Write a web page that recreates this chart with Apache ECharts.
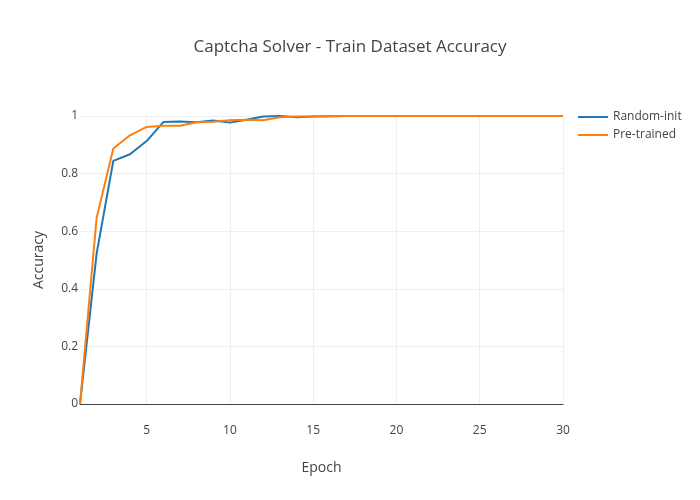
<!DOCTYPE html>
<html><head><meta charset="utf-8">
<script src="https://cdn.jsdelivr.net/npm/echarts@6/dist/echarts.min.js"></script>
<style>html,body{margin:0;padding:0;background:#fff}#c{width:700px;height:500px}</style>
</head><body><div id="c"></div>
<script>
var epochs = [];
for (var i = 1; i <= 30; i++) epochs.push(String(i));
var randomInit = [0, 0.523, 0.844, 0.867, 0.913, 0.979, 0.981, 0.978, 0.984, 0.977, 0.987, 0.998, 1.0, 0.996, 0.998, 0.999, 1, 1, 1, 1, 1, 1, 1, 1, 1, 1, 1, 1, 1, 1];
var preTrained = [0, 0.647, 0.887, 0.933, 0.962, 0.966, 0.966, 0.978, 0.980, 0.985, 0.987, 0.985, 0.996, 0.998, 0.998, 0.999, 1, 1, 1, 1, 1, 1, 1, 1, 1, 1, 1, 1, 1, 1];
var xTickLabels = ['5', '10', '15', '20', '25', '30'];

var font = '"Open Sans", sans-serif';
var chart = echarts.init(document.getElementById('c'), null, {renderer: 'canvas'});
chart.setOption({
  animation: false,
  backgroundColor: '#fff',
  title: {
    text: 'Captcha Solver - Train Dataset Accuracy',
    left: 'center', top: 34,
    textStyle: {fontFamily: font, fontSize: 17, fontWeight: 'normal', color: '#444'}
  },
  legend: {
    orient: 'vertical', left: 578, top: 111, padding: 0,
    icon: 'rect', itemWidth: 30, itemHeight: 2, itemGap: 6,
    textStyle: {fontFamily: font, fontSize: 12, color: '#444'},
    data: ['Random-init', 'Pre-trained']
  },
  grid: {left: 80, right: 137, top: 116, bottom: 96},
  xAxis: {
    type: 'category', data: epochs, boundaryGap: false,
    name: 'Epoch', nameLocation: 'middle', nameGap: 57,
    nameTextStyle: {fontFamily: font, fontSize: 14, color: '#444'},
    axisLine: {lineStyle: {color: '#444', width: 1}},
    axisTick: {show: false},
    axisLabel: {
      fontFamily: font, fontSize: 12, color: '#444', margin: 21,
      interval: function (idx, val) { return xTickLabels.indexOf(val) >= 0; }
    },
    splitLine: {
      show: true, lineStyle: {color: '#eee', width: 1},
      interval: function (idx, val) { return xTickLabels.indexOf(val) >= 0; }
    }
  },
  yAxis: {
    type: 'value', min: 0, max: 1, interval: 0.2,
    name: 'Accuracy', nameLocation: 'middle', nameGap: 34,
    nameTextStyle: {fontFamily: font, fontSize: 14, color: '#444'},
    axisLine: {show: false}, axisTick: {show: false},
    axisLabel: {fontFamily: font, fontSize: 12, color: '#444', margin: 2},
    splitLine: {show: true, lineStyle: {color: '#eee', width: 1}}
  },
  series: [
    {name: 'Random-init', type: 'line', data: randomInit, symbol: 'none', clip: false,
     lineStyle: {color: '#1f77b4', width: 2}, itemStyle: {color: '#1f77b4'}, z: 3},
    {name: 'Pre-trained', type: 'line', data: preTrained, symbol: 'none', clip: false,
     lineStyle: {color: '#ff7f0e', width: 2}, itemStyle: {color: '#ff7f0e'}, z: 4}
  ]
});
</script></body></html>
